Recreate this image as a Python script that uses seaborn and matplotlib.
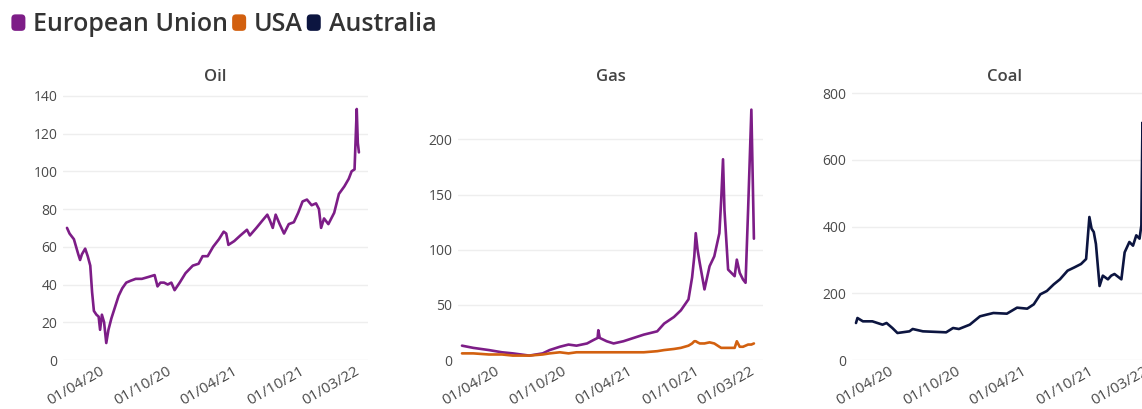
import pandas as pd
import numpy as np
import matplotlib
matplotlib.use('Agg')
import matplotlib.pyplot as plt
import matplotlib.dates as mdates
from matplotlib.patches import FancyBboxPatch
from matplotlib.legend_handler import HandlerPatch
import seaborn as sns

# --- data ---

oil_dates = ['2020-01-01', '2020-01-08', '2020-01-20', '2020-02-01', '2020-02-06', '2020-02-11',
             '2020-02-20', '2020-02-27', '2020-03-05', '2020-03-10', '2020-03-15', '2020-03-22',
             '2020-03-28', '2020-04-01', '2020-04-06', '2020-04-12', '2020-04-18', '2020-04-24',
             '2020-05-02', '2020-05-12', '2020-05-22', '2020-06-01', '2020-06-12', '2020-06-24',
             '2020-07-08', '2020-07-25', '2020-08-12', '2020-08-29', '2020-09-06', '2020-09-14',
             '2020-09-24', '2020-10-04', '2020-10-14', '2020-10-23', '2020-11-06', '2020-11-22',
             '2020-12-12', '2020-12-28', '2021-01-08', '2021-01-22', '2021-02-06', '2021-02-22',
             '2021-03-07', '2021-03-14', '2021-03-20', '2021-04-05', '2021-04-22', '2021-05-10',
             '2021-05-18', '2021-06-05', '2021-06-22', '2021-07-05', '2021-07-12', '2021-07-20',
             '2021-07-28', '2021-08-08', '2021-08-20', '2021-09-02', '2021-09-16', '2021-09-28',
             '2021-10-10', '2021-10-22', '2021-11-04', '2021-11-16', '2021-11-24', '2021-11-30',
             '2021-12-08', '2021-12-20', '2022-01-05', '2022-01-18', '2022-02-02', '2022-02-14',
             '2022-02-22', '2022-03-02', '2022-03-08', '2022-03-11', '2022-03-14']
oil_eu = [70, 67, 64, 56, 53, 56, 59, 55, 50, 36, 26, 24, 23, 16, 24, 20, 9, 16,
          22, 28, 34, 38, 41, 42, 43, 43, 44, 45, 39, 41, 41, 40, 41, 37, 41, 46,
          50, 51, 55, 55, 60, 64, 68, 67, 61, 63, 66, 69, 66, 70, 74, 77, 74, 70,
          77, 72, 67, 72, 73, 78, 84, 85, 82, 83, 80, 70, 75, 72, 78, 88, 92, 96,
          100, 101, 133, 115, 110]

gas_dates = ['2020-01-01', '2020-02-01', '2020-03-15', '2020-04-20', '2020-05-20', '2020-07-04',
             '2020-08-10', '2020-08-29', '2020-09-26', '2020-10-20', '2020-11-11', '2020-12-10',
             '2020-12-27', '2021-01-08', '2021-01-10', '2021-01-14', '2021-02-02', '2021-02-21',
             '2021-03-20', '2021-04-17', '2021-05-15', '2021-06-21', '2021-07-10', '2021-08-06',
             '2021-08-25', '2021-09-15', '2021-09-25', '2021-10-01', '2021-10-05', '2021-10-10',
             '2021-10-16', '2021-10-29', '2021-11-12', '2021-11-25', '2021-12-09', '2021-12-14',
             '2021-12-19', '2021-12-23', '2022-01-02', '2022-01-20', '2022-01-26', '2022-02-03',
             '2022-02-12', '2022-02-19', '2022-02-26', '2022-03-07', '2022-03-14']
gas_eu = [13, 11, 9, 7, 6, 4, 6, 9, 12, 14, 13, 15, 18, 20, 27, 20, 17, 15,
          17, 20, 23, 26, 33, 39, 45, 55, 75, 94, 115, 100, 88, 64, 85, 94, 115, 145,
          182, 136, 82, 76, 91, 79, 73, 70, 136, 227, 110]
gas_usa = [6, 6, 5, 5, 4, 4, 5, 6, 7, 6, 7, 7, 7, 7, 7, 7, 7, 7,
           7, 7, 7, 8, 9, 10, 11, 13, 15, 17, 17, 16, 15, 15, 16, 15, 12, 11,
           11, 11, 11, 11, 17, 12, 12, 13, 14, 14, 15]

coal_dates = ['2020-01-01', '2020-01-05', '2020-01-20', '2020-02-15', '2020-03-14', '2020-03-25',
              '2020-04-10', '2020-04-24', '2020-05-27', '2020-06-05', '2020-07-03', '2020-09-05',
              '2020-09-24', '2020-10-10', '2020-11-09', '2020-12-07', '2020-12-25', '2021-01-13',
              '2021-02-19', '2021-03-19', '2021-04-16', '2021-05-04', '2021-05-22', '2021-06-09',
              '2021-06-28', '2021-07-15', '2021-08-05', '2021-08-24', '2021-09-11', '2021-09-25',
              '2021-10-04', '2021-10-10', '2021-10-16', '2021-10-22', '2021-11-01', '2021-11-10',
              '2021-11-24', '2021-12-03', '2021-12-12', '2021-12-31', '2022-01-09', '2022-01-22',
              '2022-02-01', '2022-02-10', '2022-02-19', '2022-02-24', '2022-02-27', '2022-03-04',
              '2022-03-14']
coal_au = [111, 126, 116, 116, 106, 111, 96, 81, 86, 93, 86, 83, 96, 93, 106, 131, 136, 141,
           139, 157, 154, 167, 197, 207, 227, 242, 268, 278, 288, 303, 429, 394, 384, 348, 222, 253,
           242, 253, 258, 242, 323, 354, 343, 374, 364, 404, 712, 600, 420]

titles = ['Oil', 'Gas', 'Coal']
series_names = ['European Union', 'USA', 'Australia']
colours = {'European Union': '#7d1d87', 'USA': '#d2600f', 'Australia': '#0c1540'}
tick_dates = ['2020-04-01', '2020-10-01', '2021-04-01', '2021-10-01', '2022-03-01']

# --- long tables for seaborn ---

oil_df = pd.DataFrame({'date': pd.to_datetime(oil_dates), 'price': oil_eu, 'region': 'European Union'})
gas_df = pd.concat([
    pd.DataFrame({'date': pd.to_datetime(gas_dates), 'price': gas_eu, 'region': 'European Union'}),
    pd.DataFrame({'date': pd.to_datetime(gas_dates), 'price': gas_usa, 'region': 'USA'}),
])
coal_df = pd.DataFrame({'date': pd.to_datetime(coal_dates), 'price': coal_au, 'region': 'Australia'})

sns.set_theme(style='white')
plt.rcParams['font.family'] = ['Open Sans', 'DejaVu Sans']

fig = plt.figure(figsize=(11.42, 4.09), dpi=100)
W, H = 1142, 409
lefts = [63, 458, 852]
ylims = [(0, 142), (0, 243), (0, 804)]
yticks = [range(0, 141, 20), range(0, 201, 50), range(0, 801, 200)]

for i, df in enumerate([oil_df, gas_df, coal_df]):
    ax = fig.add_axes([lefts[i] / W, (H - 360) / H, 305 / W, 268 / H])
    sns.lineplot(data=df, x='date', y='price', hue='region', palette=colours,
                 linewidth=1.9, ax=ax, legend=False)
    ax.set_xlim(pd.Timestamp('2019-12-21'), pd.Timestamp('2022-04-08'))
    ax.set_ylim(*ylims[i])
    ax.set_yticks(list(yticks[i]))
    ax.set_xticks(pd.to_datetime(tick_dates))
    ax.xaxis.set_major_formatter(mdates.DateFormatter('%d/%m/%y'))
    ax.tick_params(axis='x', labelrotation=30, labelsize=11, colors='#4a4a4a', pad=3, length=0)
    ax.tick_params(axis='y', labelsize=10, colors='#4a4a4a', pad=4, length=0)
    for lab in ax.get_xticklabels():
        lab.set_ha('right')
        lab.set_rotation_mode('anchor')
    ax.grid(axis='y', color='#eeeeee', linewidth=1)
    ax.grid(axis='x', visible=False)
    sns.despine(ax=ax, left=True, bottom=True)
    ax.set_xlabel('')
    ax.set_ylabel('')
    ax.set_title(titles[i], fontsize=12, color='#444444', pad=8, fontweight='semibold')


class RoundBox(HandlerPatch):
    def create_artists(self, legend, orig_handle, xdescent, ydescent, width, height, fontsize, trans):
        w, h = 0.56 * fontsize, 0.66 * fontsize
        x0 = -xdescent
        y0 = (height - h) / 2 - ydescent
        p = FancyBboxPatch((x0, y0), w, h, boxstyle='round,pad=0,rounding_size=%f' % (0.16 * fontsize),
                           facecolor=orig_handle.get_facecolor(), edgecolor='none', transform=trans)
        return [p]


handles = [FancyBboxPatch((0, 0), 1, 1, facecolor=colours[n]) for n in series_names]
fig.legend(handles, series_names, loc='upper left', bbox_to_anchor=(0.0056, 0.982), ncol=3,
           frameon=False, prop={'size': 18, 'weight': 'semibold'}, handletextpad=0.32,
           columnspacing=0.15, handlelength=0.56, labelcolor='#333333',
           borderaxespad=0, borderpad=0.2,
           handler_map={FancyBboxPatch: RoundBox()})

fig.savefig('out.png', dpi=100)
